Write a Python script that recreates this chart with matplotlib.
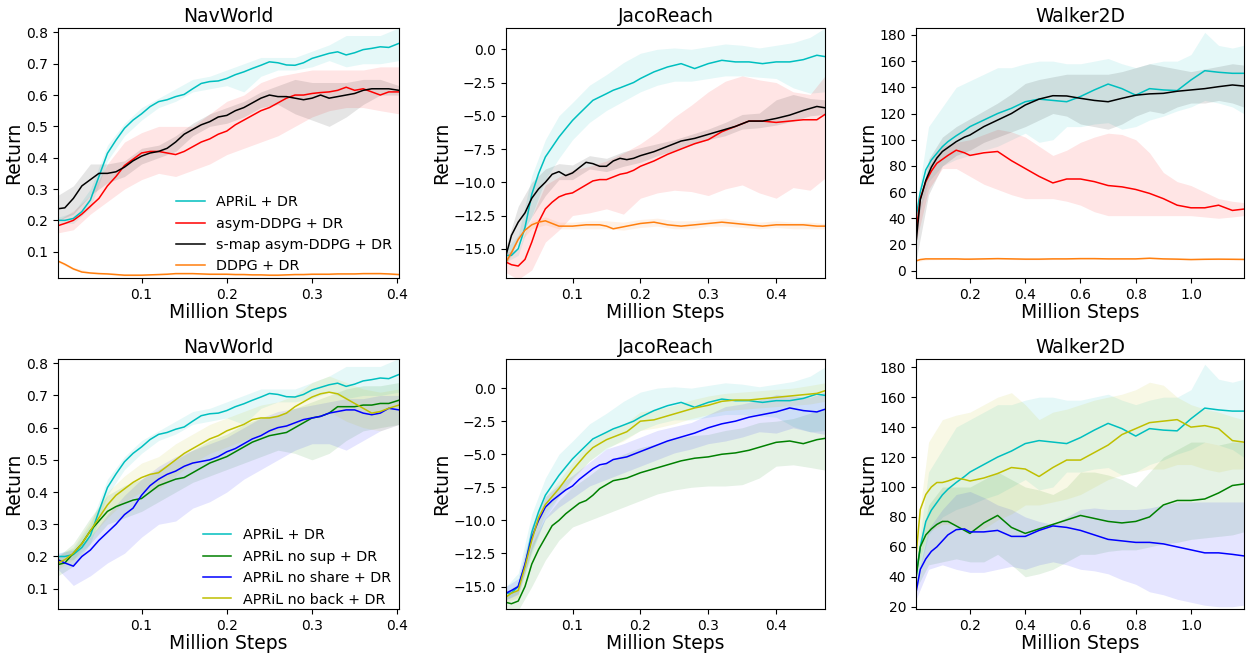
import matplotlib
matplotlib.use("Agg")
import matplotlib.pyplot as plt

# ---------------- data ----------------
nav_steps = [0.002, 0.01, 0.02, 0.03, 0.04, 0.05, 0.06, 0.07, 0.08, 0.09, 0.10,
             0.11, 0.12, 0.13, 0.14, 0.15, 0.16, 0.17, 0.18, 0.19, 0.20,
             0.21, 0.22, 0.23, 0.24, 0.25, 0.26, 0.27, 0.28, 0.29, 0.30,
             0.31, 0.32, 0.33, 0.34, 0.35, 0.36, 0.37, 0.38, 0.39, 0.402]
nav_band_steps = [0.002, 0.02, 0.04, 0.06, 0.08, 0.10, 0.12, 0.14, 0.16, 0.18, 0.20,
                  0.22, 0.24, 0.26, 0.28, 0.30, 0.32, 0.34, 0.36, 0.38, 0.402]

nav_april = [0.200, 0.200, 0.206, 0.228, 0.265, 0.340, 0.414, 0.456, 0.494, 0.520, 0.540,
             0.563, 0.579, 0.585, 0.595, 0.602, 0.620, 0.637, 0.643, 0.645, 0.653,
             0.665, 0.674, 0.685, 0.695, 0.706, 0.703, 0.696, 0.695, 0.703, 0.717,
             0.725, 0.733, 0.738, 0.728, 0.735, 0.745, 0.749, 0.754, 0.752, 0.765]
nav_april_lo = [0.19, 0.19, 0.24, 0.39, 0.47, 0.52, 0.56, 0.58, 0.61, 0.62, 0.63,
                0.61, 0.66, 0.68, 0.68, 0.69, 0.71, 0.69, 0.70, 0.70, 0.71]
nav_april_hi = [0.21, 0.225, 0.30, 0.44, 0.51, 0.56, 0.59, 0.62, 0.65, 0.66, 0.68,
                0.70, 0.72, 0.72, 0.72, 0.74, 0.76, 0.79, 0.79, 0.79, 0.815]

nav_asym = [0.183, 0.190, 0.200, 0.220, 0.245, 0.270, 0.310, 0.340, 0.375, 0.395, 0.415,
            0.420, 0.420, 0.415, 0.410, 0.420, 0.435, 0.450, 0.460, 0.475, 0.485,
            0.505, 0.520, 0.535, 0.550, 0.560, 0.575, 0.590, 0.600, 0.600, 0.605,
            0.608, 0.610, 0.615, 0.625, 0.615, 0.620, 0.610, 0.600, 0.610, 0.610]
nav_asym_lo = [0.16, 0.17, 0.22, 0.26, 0.30, 0.33, 0.35, 0.34, 0.36, 0.38, 0.41,
               0.43, 0.45, 0.47, 0.50, 0.53, 0.55, 0.56, 0.56, 0.55, 0.54]
nav_asym_hi = [0.20, 0.23, 0.28, 0.38, 0.45, 0.48, 0.50, 0.50, 0.50, 0.54, 0.58,
               0.60, 0.64, 0.66, 0.67, 0.68, 0.68, 0.68, 0.68, 0.69, 0.69]

nav_smap = [0.237, 0.240, 0.270, 0.310, 0.330, 0.350, 0.350, 0.355, 0.370, 0.390, 0.405,
            0.415, 0.420, 0.430, 0.450, 0.475, 0.490, 0.505, 0.515, 0.530, 0.535,
            0.550, 0.560, 0.575, 0.590, 0.600, 0.595, 0.595, 0.590, 0.585, 0.590,
            0.600, 0.590, 0.595, 0.600, 0.605, 0.615, 0.620, 0.620, 0.620, 0.615]
nav_smap_lo = [0.20, 0.22, 0.28, 0.32, 0.34, 0.38, 0.40, 0.42, 0.47, 0.50, 0.51,
               0.53, 0.56, 0.57, 0.54, 0.52, 0.50, 0.53, 0.57, 0.60, 0.60]
nav_smap_hi = [0.28, 0.31, 0.38, 0.38, 0.39, 0.43, 0.44, 0.47, 0.51, 0.54, 0.56,
               0.58, 0.61, 0.63, 0.65, 0.64, 0.64, 0.64, 0.65, 0.65, 0.63]

nav_ddpg = [0.070, 0.060, 0.045, 0.035, 0.032, 0.030, 0.029, 0.027, 0.025, 0.025, 0.025,
            0.026, 0.027, 0.028, 0.030, 0.030, 0.030, 0.029, 0.028, 0.028, 0.028,
            0.027, 0.027, 0.026, 0.026, 0.025, 0.025, 0.026, 0.027, 0.027, 0.028,
            0.028, 0.028, 0.029, 0.029, 0.029, 0.030, 0.030, 0.030, 0.029, 0.027]
nav_ddpg_lo = [0.066, 0.041, 0.029, 0.027, 0.022, 0.022, 0.024, 0.027, 0.027, 0.025, 0.025,
               0.024, 0.023, 0.022, 0.024, 0.025, 0.025, 0.026, 0.027, 0.027, 0.024]
nav_ddpg_hi = [0.075, 0.050, 0.036, 0.034, 0.029, 0.029, 0.031, 0.034, 0.034, 0.032, 0.032,
               0.031, 0.030, 0.029, 0.031, 0.032, 0.032, 0.033, 0.034, 0.035, 0.031]

nav_nosup = [0.175, 0.180, 0.210, 0.240, 0.280, 0.310, 0.340, 0.355, 0.365, 0.375, 0.380,
             0.400, 0.420, 0.430, 0.440, 0.445, 0.460, 0.475, 0.490, 0.500, 0.510,
             0.525, 0.540, 0.555, 0.565, 0.575, 0.580, 0.585, 0.600, 0.615, 0.630,
             0.635, 0.645, 0.665, 0.665, 0.665, 0.670, 0.670, 0.675, 0.675, 0.685]
nav_nosup_lo = [0.14, 0.17, 0.24, 0.30, 0.32, 0.34, 0.37, 0.40, 0.43, 0.45, 0.47,
                0.49, 0.51, 0.53, 0.52, 0.50, 0.52, 0.56, 0.59, 0.60, 0.61]
nav_nosup_hi = [0.20, 0.24, 0.32, 0.39, 0.42, 0.44, 0.47, 0.50, 0.53, 0.56, 0.58,
                0.61, 0.63, 0.64, 0.66, 0.68, 0.70, 0.72, 0.73, 0.73, 0.74]

nav_noshare = [0.190, 0.180, 0.170, 0.200, 0.220, 0.250, 0.275, 0.300, 0.330, 0.350, 0.390,
               0.420, 0.440, 0.455, 0.465, 0.480, 0.490, 0.495, 0.500, 0.510, 0.525,
               0.535, 0.550, 0.565, 0.575, 0.590, 0.600, 0.605, 0.615, 0.625, 0.630,
               0.635, 0.645, 0.650, 0.655, 0.655, 0.645, 0.640, 0.645, 0.660, 0.655]
nav_noshare_lo = [0.16, 0.11, 0.14, 0.18, 0.21, 0.26, 0.30, 0.31, 0.35, 0.37, 0.40,
                  0.44, 0.47, 0.50, 0.53, 0.55, 0.55, 0.53, 0.56, 0.59, 0.61]
nav_noshare_hi = [0.21, 0.22, 0.26, 0.33, 0.39, 0.44, 0.48, 0.51, 0.53, 0.55, 0.57,
                  0.60, 0.63, 0.65, 0.66, 0.67, 0.68, 0.69, 0.69, 0.70, 0.70]

nav_noback = [0.180, 0.190, 0.210, 0.240, 0.280, 0.320, 0.360, 0.390, 0.410, 0.430, 0.445,
              0.455, 0.460, 0.480, 0.500, 0.520, 0.535, 0.550, 0.565, 0.575, 0.590,
              0.600, 0.610, 0.625, 0.630, 0.630, 0.635, 0.645, 0.665, 0.680, 0.695,
              0.705, 0.710, 0.705, 0.690, 0.675, 0.660, 0.645, 0.650, 0.660, 0.670]
nav_noback_lo = [0.16, 0.19, 0.26, 0.32, 0.37, 0.40, 0.41, 0.45, 0.49, 0.52, 0.54,
                 0.56, 0.58, 0.59, 0.61, 0.63, 0.65, 0.62, 0.60, 0.59, 0.61]
nav_noback_hi = [0.20, 0.23, 0.31, 0.40, 0.45, 0.49, 0.51, 0.55, 0.58, 0.61, 0.63,
                 0.65, 0.67, 0.68, 0.70, 0.74, 0.76, 0.74, 0.72, 0.71, 0.72]

jaco_steps = [0.002, 0.01, 0.02, 0.03, 0.04, 0.05, 0.06, 0.07, 0.08, 0.09, 0.10,
              0.11, 0.12, 0.13, 0.14, 0.15, 0.16, 0.17, 0.18, 0.19, 0.20,
              0.22, 0.24, 0.26, 0.28, 0.30, 0.32, 0.34, 0.36, 0.38, 0.40,
              0.42, 0.44, 0.46, 0.472]
jaco_band_steps = [0.002, 0.02, 0.04, 0.06, 0.08, 0.10, 0.125, 0.15, 0.175, 0.20, 0.225,
                   0.25, 0.275, 0.30, 0.325, 0.35, 0.375, 0.40, 0.425, 0.45, 0.472]

jaco_april = [-15.5, -15.5, -15.0, -13.4, -10.9, -9.35, -8.1, -7.35, -6.6, -5.97, -5.35,
              -4.84, -4.34, -3.84, -3.59, -3.34, -3.08, -2.9, -2.7, -2.5, -2.2,
              -1.7, -1.33, -1.08, -1.45, -1.08, -0.83, -0.95, -0.95, -1.08, -0.95,
              -0.95, -0.78, -0.45, -0.55]
jaco_april_lo = [-16.0, -15.5, -12.5, -9.8, -8.2, -6.8, -5.5, -4.6, -3.9, -3.2, -2.7,
                 -2.4, -2.4, -2.2, -2.0, -2.0, -2.1, -2.2, -2.9, -3.3, -3.2]
jaco_april_hi = [-15.0, -14.0, -9.5, -6.8, -5.0, -4.0, -2.7, -1.9, -1.0, -0.3, 0.0,
                 0.1, 0.0, 0.2, 0.4, 0.3, 0.1, 0.3, 0.5, 0.9, 1.6]

jaco_smap = [-15.5, -14.0, -13.0, -12.3, -11.2, -10.5, -10.0, -9.4, -9.2, -9.5, -9.3,
             -8.9, -8.5, -8.6, -8.8, -8.8, -8.4, -8.2, -8.3, -8.2, -8.0,
             -7.7, -7.3, -6.9, -6.7, -6.4, -6.1, -5.8, -5.4, -5.4, -5.2,
             -4.95, -4.6, -4.3, -4.4]
jaco_smap_lo = [-16.2, -14.3, -12.6, -11.0, -9.8, -9.8, -9.0, -9.2, -8.8, -8.5, -8.0,
                -7.6, -7.2, -6.8, -6.5, -6.0, -5.9, -5.7, -5.4, -5.0, -4.9]
jaco_smap_hi = [-14.8, -11.8, -10.0, -9.0, -8.6, -8.7, -8.0, -8.2, -7.7, -7.4, -7.1,
                -6.8, -6.4, -6.0, -5.5, -4.9, -4.8, -3.8, -3.4, -3.7, -3.8]

jaco_asym = [-16.0, -16.2, -16.3, -15.8, -14.5, -13.0, -12.0, -11.5, -11.1, -10.9, -10.8,
             -10.5, -10.2, -9.9, -9.8, -9.8, -9.6, -9.4, -9.3, -9.1, -8.8,
             -8.4, -7.9, -7.5, -7.1, -6.8, -6.2, -5.8, -5.4, -5.4, -5.5,
             -5.4, -5.3, -5.3, -4.9]
jaco_asym_lo = [-16.8, -17.3, -16.6, -14.5, -13.6, -12.5, -12.3, -12.0, -12.4, -11.2, -10.8,
                -10.6, -10.7, -11.0, -10.5, -10.2, -10.8, -11.2, -10.4, -10.6, -9.7]
jaco_asym_hi = [-15.3, -15.0, -12.6, -10.2, -9.6, -9.1, -8.8, -8.4, -7.8, -7.1, -6.2,
                -5.1, -4.2, -3.2, -2.4, -2.0, -2.3, -2.5, -3.2, -3.4, -2.0]

jaco_ddpg = [-16.0, -15.3, -14.3, -13.6, -13.2, -13.0, -12.9, -13.1, -13.3, -13.3, -13.3,
             -13.25, -13.2, -13.2, -13.2, -13.3, -13.5, -13.4, -13.3, -13.2, -13.1,
             -13.0, -13.2, -13.3, -13.2, -13.1, -13.0, -13.1, -13.2, -13.3, -13.2,
             -13.2, -13.2, -13.3, -13.3]
jaco_ddpg_lo = [-16.2, -14.6, -13.5, -13.2, -13.5, -13.5, -13.5, -13.5, -13.6, -13.4, -13.3,
                -13.5, -13.5, -13.3, -13.3, -13.4, -13.5, -13.4, -13.5, -13.5, -13.5]
jaco_ddpg_hi = [-15.8, -14.0, -12.9, -12.6, -13.0, -13.0, -12.9, -12.9, -13.0, -12.8, -12.7,
                -12.9, -12.9, -12.8, -12.7, -12.9, -13.0, -12.9, -13.0, -13.0, -13.1]

jaco_nosup = [-16.2, -16.3, -16.1, -15.0, -13.3, -12.2, -11.3, -10.4, -10.0, -9.5, -9.1,
              -8.7, -8.5, -8.1, -7.6, -7.3, -7.0, -6.9, -6.8, -6.6, -6.4,
              -6.1, -5.8, -5.5, -5.3, -5.2, -5.0, -4.9, -4.7, -4.4, -4.1,
              -4.0, -4.2, -3.9, -3.8]
jaco_nosup_lo = [-16.8, -16.8, -15.0, -13.0, -11.5, -10.5, -10.0, -9.5, -9.0, -8.5, -8.0,
                 -7.7, -7.5, -7.4, -7.4, -7.3, -6.8, -5.9, -5.8, -6.0, -6.2]
jaco_nosup_hi = [-15.6, -15.3, -11.8, -9.8, -8.5, -7.5, -6.6, -5.6, -5.0, -4.5, -4.2,
                 -3.8, -3.6, -3.5, -3.2, -3.0, -2.6, -2.5, -2.3, -1.9, -1.5]

jaco_noshare = [-15.5, -15.3, -15.0, -13.3, -11.3, -10.0, -9.0, -8.5, -8.1, -7.7, -7.4,
                -6.9, -6.5, -6.1, -5.8, -5.7, -5.4, -5.3, -5.2, -5.0, -4.8,
                -4.4, -4.0, -3.7, -3.4, -3.0, -2.7, -2.5, -2.2, -2.0, -1.8,
                -1.5, -1.7, -1.8, -1.6]
jaco_noshare_lo = [-16.0, -15.6, -12.2, -9.9, -9.0, -8.3, -7.4, -6.9, -6.4, -5.9, -5.4,
                   -4.9, -4.6, -4.2, -4.0, -3.7, -3.3, -3.4, -3.0, -3.3, -3.5]
jaco_noshare_hi = [-15.0, -14.4, -10.4, -8.2, -7.3, -6.6, -5.6, -4.6, -4.2, -3.7, -3.2,
                   -2.9, -2.6, -2.0, -1.4, -1.2, -0.9, -0.5, -0.6, -0.7, -0.3]

jaco_noback = [-15.8, -15.5, -15.3, -13.5, -11.5, -9.8, -8.8, -8.2, -7.6, -6.9, -6.2,
               -5.6, -5.0, -4.5, -4.2, -3.9, -3.7, -3.5, -3.3, -2.9, -2.5,
               -2.4, -2.1, -1.8, -1.5, -1.3, -1.0, -0.9, -0.9, -0.8, -0.7,
               -0.6, -0.5, -0.4, -0.2]
jaco_noback_lo = [-16.2, -15.8, -12.3, -9.4, -8.2, -6.9, -5.5, -4.5, -4.0, -3.2, -3.0,
                  -2.7, -2.3, -2.0, -1.7, -1.6, -1.5, -1.4, -1.3, -1.2, -1.0]
jaco_noback_hi = [-15.4, -14.8, -10.7, -8.2, -7.0, -5.6, -4.1, -3.3, -2.8, -1.8, -1.6,
                  -1.3, -0.9, -0.6, -0.4, -0.3, -0.2, -0.1, 0.0, 0.2, 0.4]

walk_steps = [0.005, 0.02, 0.04, 0.06, 0.08, 0.10, 0.12, 0.15, 0.18, 0.20,
              0.25, 0.30, 0.35, 0.40, 0.45, 0.50, 0.55, 0.60, 0.65, 0.70,
              0.75, 0.80, 0.85, 0.90, 0.95, 1.00, 1.05, 1.10, 1.15, 1.19]
walk_band_steps = [0.005, 0.05, 0.10, 0.15, 0.20, 0.25, 0.30, 0.35, 0.40, 0.45, 0.50,
                   0.55, 0.60, 0.65, 0.70, 0.75, 0.80, 0.85, 0.90, 0.95, 1.00,
                   1.05, 1.10, 1.15, 1.19]

walk_april = [41, 60, 77, 84.5, 89.6, 94.7, 98.5, 103, 107, 110,
              115, 120, 124, 129, 131, 130, 129, 133, 138, 142.5,
              139, 134, 139, 138, 137.5, 145.6, 152.7, 151.5, 150.7, 150.7]
walk_april_lo = [35, 68, 80, 85, 88, 92, 95, 100, 105, 98, 100, 110, 110, 112, 113,
                 108, 110, 115, 118, 122, 125, 130, 128, 125, 120]
walk_april_hi = [48, 110, 125, 140, 145, 150, 155, 155, 158, 160, 160, 158, 158, 160, 162,
                 158, 155, 158, 160, 160, 165, 182, 172, 170, 172]

walk_smap = [22, 54, 69, 79, 86, 91, 94, 98.5, 102, 103.6,
             110, 115, 120, 126.5, 131, 133.6, 133.4, 131.6, 130, 129,
             131.6, 134, 135, 135.4, 137, 138, 139, 140.5, 141.8, 141]
walk_smap_lo = [8, 58, 80, 88, 92, 98, 102, 106, 110, 115, 120, 118, 112, 110, 108,
                112, 118, 122, 120, 125, 128, 128, 130, 128, 125]
walk_smap_hi = [35, 85, 102, 110, 116, 122, 128, 135, 143, 146, 148, 150, 150, 150, 150,
                152, 155, 158, 156, 154, 152, 154, 156, 158, 157]

walk_asym = [30, 55, 68, 76, 82, 85, 88, 92, 90, 88,
             90, 91, 84, 78, 72, 67, 70, 70, 68, 65,
             64, 62, 59, 55, 50, 48, 48, 50, 46, 47]
walk_asym_lo = [22, 62, 78, 78, 72, 66, 62, 58, 55, 55, 55, 53, 50, 45, 42,
                42, 42, 42, 42, 42, 42, 41, 40, 41, 42]
walk_asym_hi = [38, 80, 95, 98, 100, 104, 108, 106, 102, 95, 88, 92, 98, 102, 105,
                104, 100, 90, 75, 68, 65, 60, 55, 53, 52]

walk_ddpg = [7.5, 8.5, 9, 9, 9, 9, 9, 9, 8.8, 8.8,
             9, 9.2, 9, 8.8, 8.8, 9, 9, 9.2, 9.2, 9,
             9, 9, 9.5, 9, 8.8, 8.5, 8.7, 8.8, 8.7, 8.6]
walk_ddpg_lo = [7.0, 8.3, 8.5, 8.5, 8.4, 8.5, 8.7, 8.5, 8.3, 8.3, 8.5, 8.5, 8.7, 8.7, 8.5,
                8.5, 8.5, 8.9, 8.5, 8.3, 8.0, 8.2, 8.3, 8.2, 8.1]
walk_ddpg_hi = [8.0, 9.5, 9.5, 9.5, 9.4, 9.5, 9.7, 9.5, 9.3, 9.3, 9.5, 9.5, 9.7, 9.7, 9.5,
                9.5, 9.5, 10.1, 9.5, 9.3, 9.0, 9.2, 9.3, 9.2, 9.1]

walk_nosup = [40, 60, 68, 72, 75, 77, 77, 74, 71, 69,
              76, 81, 73, 69, 72, 75, 78, 81, 79, 77,
              76, 77, 80, 88, 91, 91, 92, 96, 101, 102]
walk_nosup_lo = [32, 48, 50, 52, 50, 50, 55, 48, 40, 42, 45, 50, 55, 55, 57,
                 58, 58, 60, 62, 63, 65, 66, 67, 68, 70]
walk_nosup_hi = [48, 88, 100, 100, 100, 105, 110, 105, 100, 98, 95, 100, 110, 110, 108,
                 105, 100, 110, 120, 125, 130, 130, 128, 130, 130]

walk_noshare = [30, 45, 52, 57, 60, 64, 68, 71.5, 72, 70,
                70, 71, 67, 67, 71, 74, 73, 71, 68, 65,
                64, 63, 63, 62, 60, 58, 56, 56, 55, 54]
walk_noshare_lo = [25, 45, 48, 45, 43, 43, 45, 47, 45, 48, 50, 48, 45, 44, 42,
                   38, 35, 30, 28, 25, 23, 21, 20, 20, 21]
walk_noshare_hi = [35, 72, 85, 95, 97, 93, 88, 85, 80, 77, 75, 80, 85, 86, 85,
                   85, 85, 86, 88, 90, 90, 90, 90, 90, 90]

walk_noback = [55, 85, 95, 100, 103, 103, 104, 106, 105, 104,
               106, 109, 113, 112, 107, 113, 118, 118, 123, 128,
               135, 139, 143, 144, 145, 140, 141, 139, 131, 130]
walk_noback_lo = [45, 70, 75, 75, 70, 72, 78, 82, 88, 88, 90, 92, 95, 100, 105,
                  108, 110, 112, 112, 115, 115, 112, 110, 112, 112]
walk_noback_hi = [65, 130, 145, 148, 150, 155, 160, 163, 155, 145, 150, 152, 155, 158, 160,
                  162, 165, 170, 168, 160, 155, 152, 150, 147, 145]

titles = ["NavWorld", "JacoReach", "Walker2D"]
top_labels = ["APRiL + DR", "asym-DDPG + DR", "s-map asym-DDPG + DR", "DDPG + DR"]
bottom_labels = ["APRiL + DR", "APRiL no sup + DR", "APRiL no share + DR", "APRiL no back + DR"]
top_colors = ["c", "r", "k", "tab:orange"]
bottom_colors = ["c", "g", "b", "y"]

nav_ticks = [0.1, 0.2, 0.3, 0.4]
jaco_ticks = [0.1, 0.2, 0.3, 0.4]
walk_ticks = [0.2, 0.4, 0.6, 0.8, 1.0]

# ---------------- figure ----------------
W, H = 1246, 655
fig = plt.figure(figsize=(W / 100, H / 100), dpi=100)

cols = [(58, 341), (506, 319), (916, 328)]
rows = [(28, 250), (359, 250)]


def make_ax(r, c):
    x0, w = cols[c]
    y0, h = rows[r]
    return fig.add_axes([x0 / W, 1 - (y0 + h) / H, w / W, h / H])


top = [
    (nav_steps, nav_band_steps,
     [(nav_april, nav_april_lo, nav_april_hi), (nav_asym, nav_asym_lo, nav_asym_hi),
      (nav_smap, nav_smap_lo, nav_smap_hi), (nav_ddpg, nav_ddpg_lo, nav_ddpg_hi)]),
    (jaco_steps, jaco_band_steps,
     [(jaco_april, jaco_april_lo, jaco_april_hi), (jaco_asym, jaco_asym_lo, jaco_asym_hi),
      (jaco_smap, jaco_smap_lo, jaco_smap_hi), (jaco_ddpg, jaco_ddpg_lo, jaco_ddpg_hi)]),
    (walk_steps, walk_band_steps,
     [(walk_april, walk_april_lo, walk_april_hi), (walk_asym, walk_asym_lo, walk_asym_hi),
      (walk_smap, walk_smap_lo, walk_smap_hi), (walk_ddpg, walk_ddpg_lo, walk_ddpg_hi)]),
]
bottom = [
    (nav_steps, nav_band_steps,
     [(nav_april, nav_april_lo, nav_april_hi), (nav_nosup, nav_nosup_lo, nav_nosup_hi),
      (nav_noshare, nav_noshare_lo, nav_noshare_hi), (nav_noback, nav_noback_lo, nav_noback_hi)]),
    (jaco_steps, jaco_band_steps,
     [(jaco_april, jaco_april_lo, jaco_april_hi), (jaco_nosup, jaco_nosup_lo, jaco_nosup_hi),
      (jaco_noshare, jaco_noshare_lo, jaco_noshare_hi), (jaco_noback, jaco_noback_lo, jaco_noback_hi)]),
    (walk_steps, walk_band_steps,
     [(walk_april, walk_april_lo, walk_april_hi), (walk_nosup, walk_nosup_lo, walk_nosup_hi),
      (walk_noshare, walk_noshare_lo, walk_noshare_hi), (walk_noback, walk_noback_lo, walk_noback_hi)]),
]

xlims = [(0.002, 0.402), (0.002, 0.472), (0.0045, 1.192)]
xticks = [nav_ticks, jaco_ticks, walk_ticks]
ylims_top = [(0.016, 0.814), (-17.2, 1.6), (-5.6, 185.3)]
ylims_bot = [(0.037, 0.813), (-16.7, 2.2), (18.5, 185.5)]
yticks_top = [[0.1, 0.2, 0.3, 0.4, 0.5, 0.6, 0.7, 0.8],
              [-15.0, -12.5, -10.0, -7.5, -5.0, -2.5, 0.0],
              [0, 20, 40, 60, 80, 100, 120, 140, 160, 180]]
yticks_bot = [[0.1, 0.2, 0.3, 0.4, 0.5, 0.6, 0.7, 0.8],
              [-15.0, -12.5, -10.0, -7.5, -5.0, -2.5, 0.0],
              [20, 40, 60, 80, 100, 120, 140, 160, 180]]

for r, (panels, labels, colors, ylims, yts) in enumerate(
        [(top, top_labels, top_colors, ylims_top, yticks_top),
         (bottom, bottom_labels, bottom_colors, ylims_bot, yticks_bot)]):
    for c, (xs, xb, curves) in enumerate(panels):
        ax = make_ax(r, c)
        for (m, lo, hi), lab, col in zip(curves, labels, colors):
            ax.fill_between(xb, lo, hi, color=col, alpha=0.1, linewidth=0)
            ax.plot(xs, m, color=col, lw=1.1, label=lab)
        ax.set_xlim(*xlims[c])
        ax.set_ylim(*ylims[c])
        ax.set_xticks(xticks[c])
        ax.set_yticks(yts[c])
        if c == 1:
            ax.set_yticklabels(["\u221215.0", "\u221212.5", "\u221210.0", "\u22127.5",
                                "\u22125.0", "\u22122.5", "0.0"])
        ax.tick_params(labelsize=10)
        ax.set_title(titles[c], fontsize=13.5, pad=4)
        ax.set_xlabel("Million Steps", fontsize=13.5, labelpad=1)
        ax.set_ylabel("Return", fontsize=13.5, labelpad=2)
        if c == 0:
            if r == 0:
                anchor = (0.346, 0.018)
            else:
                anchor = (0.424, 0.010)
            ax.legend(loc="lower left", bbox_to_anchor=anchor, frameon=False,
                      fontsize=10.3, borderpad=0, borderaxespad=0,
                      labelspacing=0.52, handlelength=2.0)

fig.savefig("out.png", dpi=100)
